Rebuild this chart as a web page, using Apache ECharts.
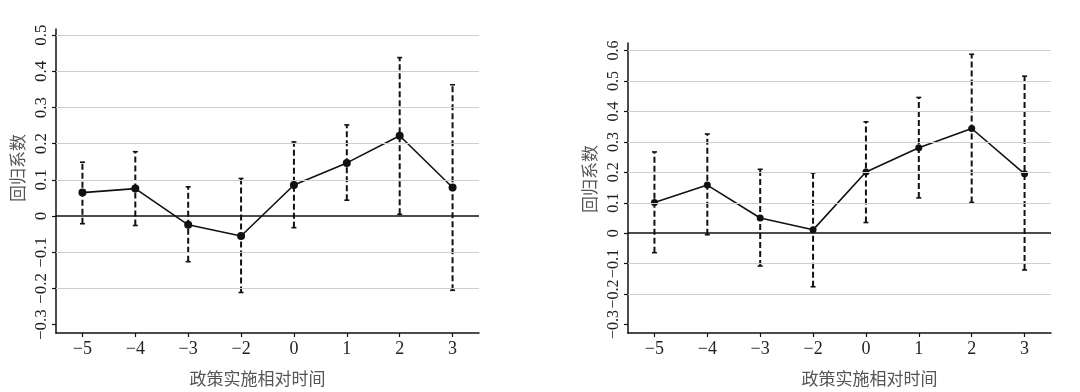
<!DOCTYPE html>
<html><head><meta charset="utf-8">
<script src="https://cdn.jsdelivr.net/npm/echarts@6/dist/echarts.min.js"></script>
<style>html,body{margin:0;padding:0;background:#fff}#c{width:1080px;height:392px}</style>
</head><body><div id="c"></div>
<script>
// ---- data ----
const categories = ['-5', '-4', '-3', '-2', '0', '1', '2', '3'];
// left panel
const coefA  = [0.065, 0.076, -0.024, -0.055, 0.086, 0.147, 0.222, 0.079];
const upperA = [0.149, 0.178, 0.081, 0.104, 0.205, 0.252, 0.438, 0.363];
const lowerA = [-0.021, -0.026, -0.126, -0.211, -0.032, 0.044, 0.005, -0.205];
const yTicksA = [-0.3, -0.2, -0.1, 0, 0.1, 0.2, 0.3, 0.4, 0.5];
const gridLinesA = [-0.2, -0.1, 0.1, 0.2, 0.3, 0.4, 0.5];
// right panel
const coefB  = [0.101, 0.158, 0.050, 0.011, 0.201, 0.281, 0.344, 0.195];
const upperB = [0.267, 0.326, 0.210, 0.198, 0.366, 0.446, 0.588, 0.516];
const lowerB = [-0.064, -0.005, -0.108, -0.176, 0.035, 0.116, 0.101, -0.121];
const yTicksB = [-0.3, -0.2, -0.1, 0, 0.1, 0.2, 0.3, 0.4, 0.5, 0.6];
const gridLinesB = [-0.2, -0.1, 0.1, 0.2, 0.3, 0.4, 0.5, 0.6];
const xName = '政策实施相对时间';
const yName = '回归系数';

// ---- chart ----
const serif = '"Liberation Serif", "DejaVu Serif", serif';
const cjk = '"Noto Sans CJK SC", sans-serif';
const minus = s => String(s).replace('-', '\u2212');
const fmtY = v => minus(Math.round(v * 10) / 10);

function yAxis(gi, min, max, ticks, namePad, fs) {
  return {
    type: 'value', gridIndex: gi, min: min, max: max,
    axisLine: { show: true, lineStyle: { color: '#111', width: 1.5 } },
    axisTick: { show: true, length: 4, customValues: ticks, lineStyle: { color: '#111', width: 1.2 } },
    axisLabel: { customValues: ticks, rotate: 90, margin: 6, formatter: fmtY,
      interval: 0, hideOverlap: false, showMinLabel: true, showMaxLabel: true,
      fontFamily: serif, fontSize: fs, color: '#222' },
    splitLine: { show: false },
    name: yName, nameLocation: 'middle', nameGap: 30,
    nameTextStyle: { fontFamily: cjk, fontSize: 17, color: '#555', padding: namePad }
  };
}
function xAxis(gi, namePad) {
  return {
    type: 'category', gridIndex: gi, data: categories, boundaryGap: true,
    axisLine: { show: true, onZero: false, lineStyle: { color: '#111', width: 1.5 } },
    axisTick: { show: true, alignWithLabel: true, length: 4, lineStyle: { color: '#111', width: 1.2 } },
    axisLabel: { formatter: minus, fontFamily: serif, fontSize: 18, color: '#222', margin: 7, interval: 0 },
    splitLine: { show: false },
    name: xName, nameLocation: 'middle', nameGap: 37,
    nameTextStyle: { fontFamily: cjk, fontSize: 17, color: '#555', padding: namePad }
  };
}
function errRender(params, api) {
  const i = api.value(0);
  const lo = api.coord([i, api.value(1)]);
  const hi = api.coord([i, api.value(2)]);
  const cw = 2.5;
  const st = { stroke: '#111', lineWidth: 1.6 };
  return { type: 'group', children: [
    { type: 'line', shape: { x1: lo[0], y1: lo[1], x2: hi[0], y2: hi[1] },
      style: { stroke: '#111', lineWidth: 2, lineDash: [6, 3] } },
    { type: 'line', shape: { x1: hi[0] - cw, y1: hi[1], x2: hi[0] + cw, y2: hi[1] }, style: st },
    { type: 'line', shape: { x1: lo[0] - cw, y1: lo[1], x2: lo[0] + cw, y2: lo[1] }, style: st }
  ]};
}
function panelSeries(gi, coef, lower, upper, gl, sym) {
  const ml = gl.map(v => ({ yAxis: v, lineStyle: { color: '#cfcfcf', width: 1.2, type: 'solid' } }));
  ml.push({ yAxis: 0, lineStyle: { color: '#111', width: 1.6, type: 'solid' } });
  return [
    { type: 'custom', xAxisIndex: gi, yAxisIndex: gi, z: 2, silent: true,
      renderItem: errRender, encode: { x: 0, y: [1, 2] },
      data: categories.map((c, i) => [i, lower[i], upper[i]]),
      markLine: { silent: true, symbol: 'none', label: { show: false }, animation: false, data: ml } },
    { type: 'line', xAxisIndex: gi, yAxisIndex: gi, z: 3, data: coef,
      symbol: 'circle', symbolSize: sym, itemStyle: { color: '#111' },
      lineStyle: { color: '#111', width: 1.6 } }
  ];
}
const chart = echarts.init(document.getElementById('c'), null, { renderer: 'canvas' });
chart.setOption({
  animation: false,
  backgroundColor: '#fff',
  grid: [
    { left: 56, top: 29, width: 423, height: 308 },
    { left: 628, top: 43, width: 423, height: 300 }
  ],
  xAxis: [xAxis(0, [0, 20, 0, 0]), xAxis(1, [0, 0, 0, 60])],
  yAxis: [yAxis(0, -0.323, 0.517, yTicksA, [0, 0, 0, 26], 17),
          yAxis(1, -0.328, 0.625, yTicksB, [0, 0, 0, 18], 16)],
  series: [].concat(panelSeries(0, coefA, lowerA, upperA, gridLinesA, 8),
                    panelSeries(1, coefB, lowerB, upperB, gridLinesB, 7))
});
</script></body></html>
